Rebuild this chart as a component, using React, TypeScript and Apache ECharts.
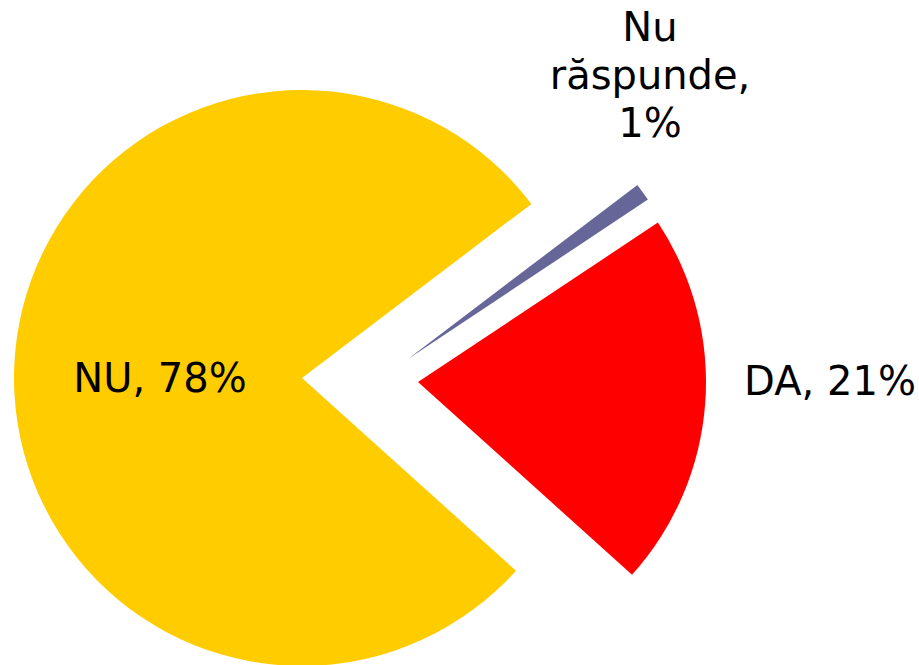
import React, { useEffect, useRef } from "react";
import * as echarts from "echarts";

const categories = ["DA", "Nu răspunde", "NU"];
const values = [21, 1, 78];
const colors = ["#FF0000", "#666699", "#FFCC00"];

export default function App() {
  const ref = useRef<HTMLDivElement>(null);
  useEffect(() => {
    if (!ref.current) return;
    document.body.style.margin = "0";
    const chart = echarts.init(ref.current, null, { renderer: "svg" });
    const font = "'DejaVu Sans', Verdana, sans-serif";
    const centers = [
      [418, 382],
      [408, 359],
      [302, 378],
    ];
    const labelPos = [
      { x: 830, y: 381 },
      { x: 650, y: 75 },
      { x: 160, y: 378 },
    ];
    const fmt = (p: any) =>
      p.name.includes(" ")
        ? `${p.name.replace(/ /g, "\n")},\n${p.percent}%`
        : `${p.name}, ${p.percent}%`;
    const series = categories.map((_, vis) => ({
      type: "pie",
      name: categories[vis],
      center: centers[vis],
      radius: 288,
      startAngle: 318,
      clockwise: false,
      silent: true,
      avoidLabelOverlap: false,
      percentPrecision: 0,
      emphasis: { disabled: true },
      labelLine: { show: false },
      labelLayout: { ...labelPos[vis], align: "center", verticalAlign: "middle" },
      data: categories.map((name, i) => ({
        name,
        value: values[i],
        itemStyle: {
          color: i === vis ? colors[i] : "rgba(0,0,0,0)",
          borderWidth: 0,
        },
        label:
          i === vis
            ? {
                show: true,
                position: "inside",
                formatter: fmt,
                color: "#000",
                fontFamily: font,
                fontSize: 40,
                lineHeight: 48,
              }
            : { show: false },
      })),
    }));
    chart.setOption({
      animation: false,
      backgroundColor: "#fff",
      tooltip: { show: false },
      series,
    });
    return () => chart.dispose();
  }, []);
  return <div ref={ref} style={{ width: 919, height: 665 }} />;
}
